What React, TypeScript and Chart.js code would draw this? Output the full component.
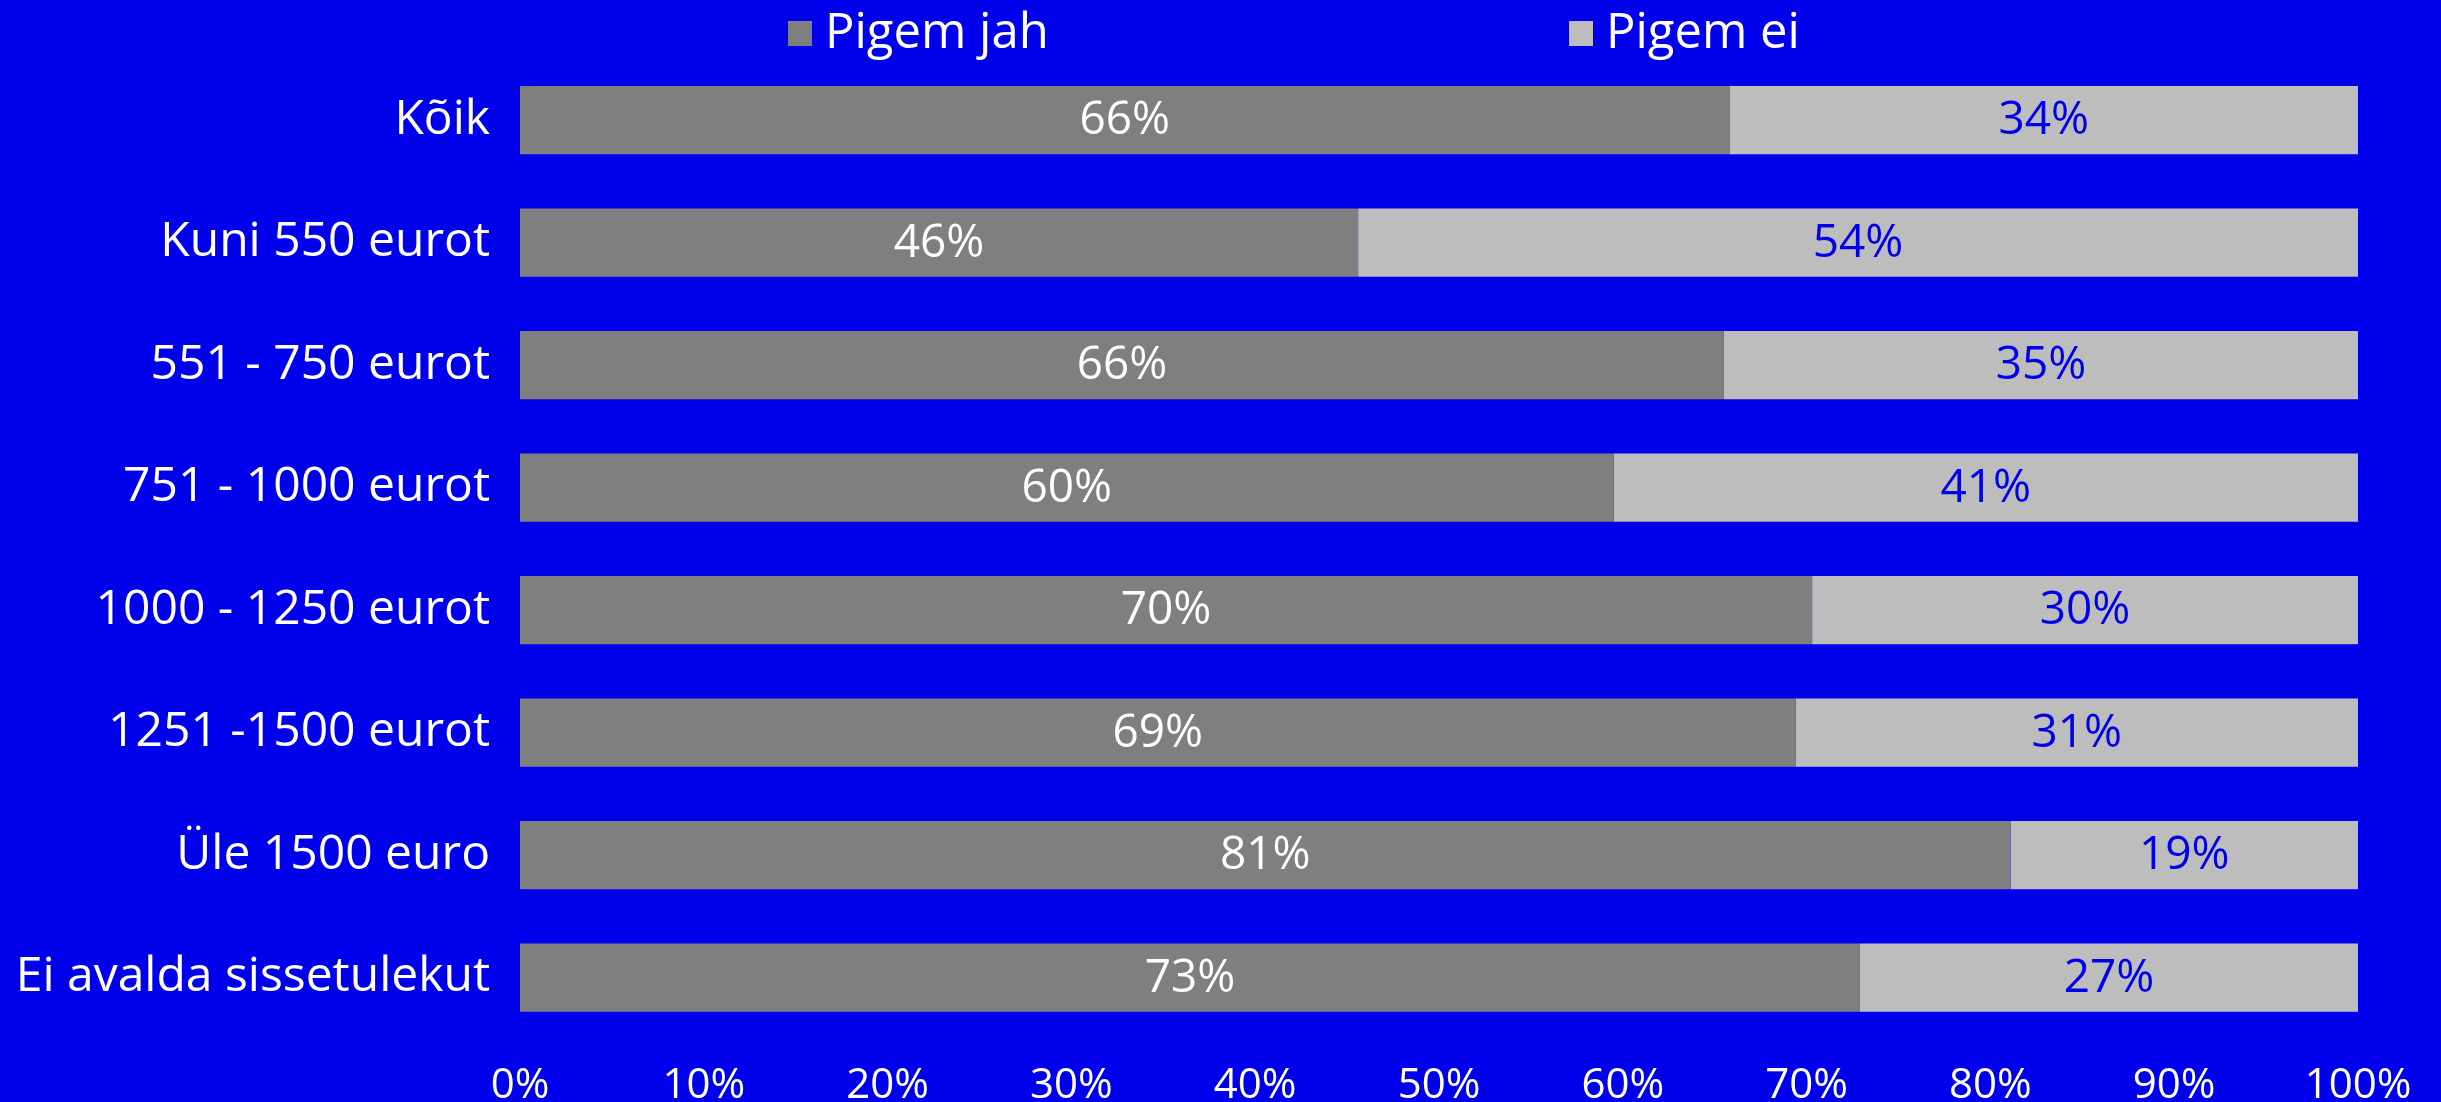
import React, { useEffect, useRef } from "react";
import { Chart, registerables } from "chart.js";

Chart.register(...registerables);

const categories = [
  "Kõik",
  "Kuni 550 eurot",
  "551 - 750 eurot",
  "751 - 1000 eurot",
  "1000 - 1250 eurot",
  "1251 -1500 eurot",
  "Üle 1500 euro",
  "Ei avalda sissetulekut",
];
const pigemJah = [65.8, 45.6, 65.5, 59.5, 70.3, 69.4, 81.1, 72.9];
const pigemEi = [34.2, 54.4, 34.5, 40.5, 29.7, 30.6, 18.9, 27.1];
const seriesNames = ["Pigem jah", "Pigem ei"];

const BG = "#0000EB";
const DARK = "#7F7F7F";
const LIGHT = "#BCBDBC";
const FONT = "'Open Sans', sans-serif";

const W = 2441;
const H = 1102;

const dataLabelPlugin = {
  id: "dataLabels",
  afterDatasetsDraw(chart: any) {
    const ctx = chart.ctx;
    ctx.save();
    ctx.font = `46px ${FONT}`;
    ctx.textAlign = "center";
    ctx.textBaseline = "middle";
    chart.data.datasets.forEach((ds: any, di: number) => {
      const meta = chart.getDatasetMeta(di);
      meta.data.forEach((bar: any, i: number) => {
        const v = ds.data[i];
        const cx = (bar.x + bar.base) / 2;
        ctx.fillStyle = di === 0 ? "#FFFFFF" : BG;
        ctx.fillText(`${Math.round(v)}%`, cx, bar.y + 1);
      });
    });
    ctx.restore();
  },
};

const legendPlugin = {
  id: "customLegend",
  afterDraw(chart: any) {
    const ctx = chart.ctx;
    const starts = [788, 1569];
    ctx.save();
    ctx.font = `49px ${FONT}`;
    ctx.textAlign = "left";
    ctx.textBaseline = "middle";
    chart.data.datasets.forEach((ds: any, di: number) => {
      const x = starts[di];
      ctx.fillStyle = ds.backgroundColor;
      ctx.fillRect(x, 21, 24, 25);
      ctx.fillStyle = "#FFFFFF";
      ctx.fillText(ds.label, x + 37, 34);
    });
    ctx.restore();
  },
};

const bgPlugin = {
  id: "bg",
  beforeDraw(chart: any) {
    const ctx = chart.ctx;
    ctx.save();
    ctx.fillStyle = BG;
    ctx.fillRect(0, 0, chart.width, chart.height);
    ctx.restore();
  },
};

export default function App() {
  const ref = useRef<HTMLCanvasElement>(null);

  useEffect(() => {
    document.body.style.margin = "0";
    document.body.style.overflow = "hidden";
    document.body.style.background = BG;
    const canvas = ref.current!;
    const chart = new Chart(canvas, {
      type: "bar",
      data: {
        labels: categories,
        datasets: [
          {
            label: seriesNames[0],
            data: pigemJah,
            backgroundColor: DARK,
            borderWidth: 0,
            categoryPercentage: 0.557,
            barPercentage: 1,
          },
          {
            label: seriesNames[1],
            data: pigemEi,
            backgroundColor: LIGHT,
            borderWidth: 0,
            categoryPercentage: 0.557,
            barPercentage: 1,
          },
        ],
      },
      options: {
        indexAxis: "y",
        responsive: false,
        animation: false,
        devicePixelRatio: 1,
        layout: { padding: { top: 54, right: 83, left: 0, bottom: 0 } },
        plugins: {
          legend: { display: false },
          tooltip: { enabled: false },
        },
        scales: {
          x: {
            stacked: true,
            min: 0,
            max: 100,
            grid: { display: false, drawTicks: false },
            border: { display: false },
            ticks: {
              stepSize: 10,
              color: "#FFFFFF",
              font: { family: FONT, size: 42 },
              padding: 22,
              maxRotation: 0,
              callback: (v: any) => `${v}%`,
            },
            afterFit: (s: any) => {
              s.height = 63;
            },
          },
          y: {
            stacked: true,
            grid: { display: false, drawTicks: false },
            border: { display: false },
            ticks: {
              color: "#FFFFFF",
              font: { family: FONT, size: 48 },
              padding: 30,
            },
            afterFit: (s: any) => {
              s.width = 520;
            },
          },
        },
      },
      plugins: [bgPlugin, dataLabelPlugin, legendPlugin],
    });
    return () => chart.destroy();
  }, []);

  return (
    <div style={{ position: "absolute", left: 0, top: 0, width: W, height: H, background: BG }}>
      <canvas ref={ref} width={W} height={H} style={{ width: W, height: H, display: "block" }} />
    </div>
  );
}
